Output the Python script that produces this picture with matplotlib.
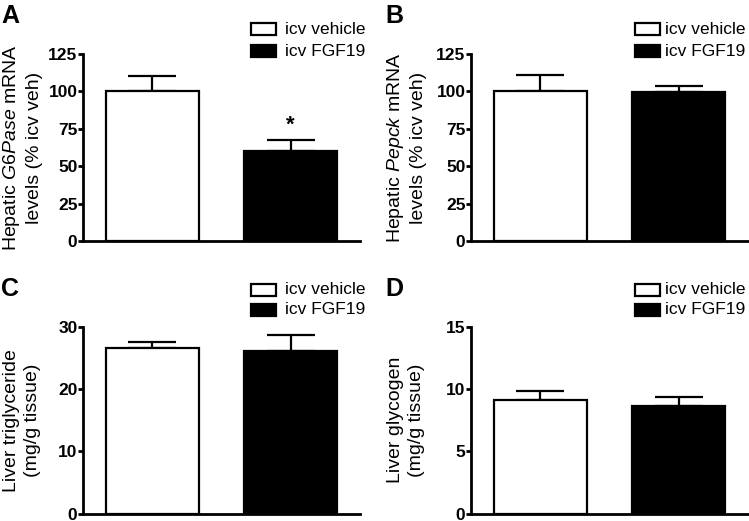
import numpy as np
import matplotlib
matplotlib.use("Agg")
import matplotlib.pyplot as plt
from matplotlib.patches import Rectangle

plt.rcParams["font.family"] = ["Liberation Sans", "DejaVu Sans"]
plt.rcParams["mathtext.fontset"] = "custom"
plt.rcParams["mathtext.rm"] = "Liberation Sans"
plt.rcParams["mathtext.it"] = "Liberation Sans:italic"

# ── data ──────────────────────────────────────────────────────────────────────
groups = ["icv vehicle", "icv FGF19"]
colors = ["white", "black"]

g6pase_mean = [100.0, 60.0]
g6pase_err  = [10.3, 7.5]
pepck_mean  = [100.0, 99.6]
pepck_err   = [11.0, 3.8]
tg_mean     = [26.7, 26.1]
tg_err      = [0.9, 2.6]
glyc_mean   = [9.1, 8.63]
glyc_err    = [0.75, 0.72]

panels = [
    ("A", g6pase_mean, g6pase_err, 125, [0, 25, 50, 75, 100, 125],
     "Hepatic $\\it{G6Pase}$ mRNA\nlevels (% icv veh)", True),
    ("B", pepck_mean, pepck_err, 125, [0, 25, 50, 75, 100, 125],
     "Hepatic $\\it{Pepck}$ mRNA\nlevels (% icv veh)", False),
    ("C", tg_mean, tg_err, 30, [0, 10, 20, 30],
     "Liver triglyceride\n(mg/g tissue)", False),
    ("D", glyc_mean, glyc_err, 15, [0, 5, 10, 15],
     "Liver glycogen\n(mg/g tissue)", False),
]

W, H = 749, 521
fig = plt.figure(figsize=(W / 100, H / 100), dpi=100)

# pixel layout: axes left edge, axes top, axes bottom
ax_left = [83, 471, 83, 471]
ax_top = [54, 54, 327, 327]
ax_bot = [241, 241, 513.5, 513.5]
ax_w = 277
leg_box = [168, 164, 168, 164]   # legend box offset from axes left
leg_txt = [202, 194, 202, 194]   # legend text offset from axes left

for i, (letter, means, errs, ymax, ticks, ylab, star) in enumerate(panels):
    l, t, b = ax_left[i], ax_top[i], ax_bot[i]
    ax = fig.add_axes([l / W, 1 - b / H, ax_w / W, (b - t) / H])
    x = np.arange(len(means))
    ax.bar(x, means, width=0.67, color=colors, edgecolor="black",
           linewidth=1.6, zorder=3)
    ax.errorbar(x, means, yerr=[np.zeros(len(errs)), errs], fmt="none",
                ecolor="black", elinewidth=1.6, capsize=17, capthick=1.6,
                zorder=2)
    ax.set_xlim(-0.5, 1.5)
    ax.set_ylim(0, ymax)
    ax.set_yticks(ticks)
    ax.set_yticklabels([str(v) for v in ticks], fontsize=12.5, fontweight="bold")
    ax.set_xticks([])
    for s in ["top", "right"]:
        ax.spines[s].set_visible(False)
    for s in ["left", "bottom"]:
        ax.spines[s].set_linewidth(2.0)
    ax.tick_params(axis="y", direction="out", length=3.5, width=2.0, pad=0.5)
    ax.patch.set_alpha(0)

    if star:
        ax.text(1, means[1] + errs[1] + 3, "*", ha="center", va="bottom",
                fontsize=16, fontweight="bold")

    # y label
    xoff = 0 if i % 2 == 0 else 384
    fig.text((22 + xoff) / W, 1 - (t + b) / 2 / H, ylab, rotation=90,
             ha="center", va="center", fontsize=14, multialignment="center",
             linespacing=1.3)

    # panel letter
    fig.text((1 + xoff) / W, 1 - (t - 38) / H, letter, ha="left",
             va="center", fontsize=18, fontweight="bold")

    # legend
    if t < 100:
        rows = [29, 51]
    else:
        rows = [290, 310]
    for row, c, name in zip(rows, colors, groups):
        fig.patches.append(Rectangle(((l + leg_box[i]) / W, 1 - (row + 6) / H),
                                     25 / W, 12 / H, facecolor=c,
                                     edgecolor="black", linewidth=1.6,
                                     transform=fig.transFigure, figure=fig))
        fig.text((l + leg_txt[i]) / W, 1 - row / H, name, ha="left",
                 va="center", fontsize=12.5)

fig.savefig("out.png", dpi=100)
